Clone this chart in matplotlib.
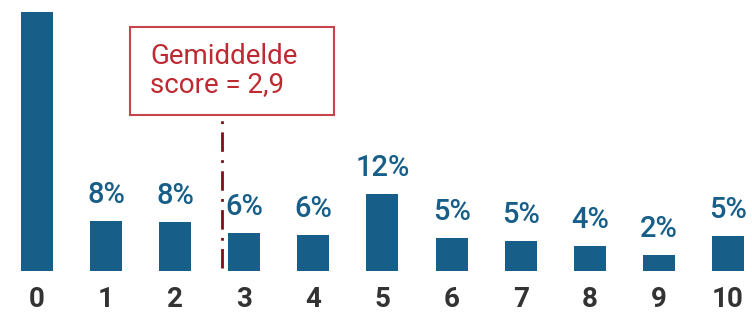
import matplotlib
matplotlib.use("Agg")
import matplotlib.pyplot as plt
from matplotlib.patches import Rectangle

categories = ["0", "1", "2", "3", "4", "5", "6", "7", "8", "9", "10"]
values = [40.3, 7.8, 7.6, 5.9, 5.6, 12.0, 5.1, 4.7, 3.9, 2.5, 5.4]
value_labels = ["", "8%", "8%", "6%", "6%", "12%", "5%", "5%", "4%", "2%", "5%"]
mean_label = "Gemiddelde\nscore = 2,9"
mean_line_x = 2.68

plt.rcParams['font.family'] = ['Roboto', 'DejaVu Sans']

BLUE = "#175E88"
RED_TXT = "#BE2A32"
RED_BOX = "#C9434B"
LINE_RED = "#7A1015"

fig = plt.figure(figsize=(7.52, 3.15), dpi=100)
ax = fig.add_axes([0, 44 / 315, 1, 1 - 44 / 315])

x = list(range(len(categories)))
ax.bar(x, values, width=0.463, color=BLUE)
ax.set_xlim(-0.535, 10.347)
ax.set_ylim(0, 42.2)

for xi, v, lab in zip(x, values, value_labels):
    if lab:
        ax.annotate(lab, (xi, v), xytext=(0, 12), textcoords="offset pixels",
                    ha="center", va="bottom", fontsize=21, color=BLUE,
                    fontweight="medium")

ax.set_xticks(x)
ax.set_xticklabels(categories, fontsize=20, fontweight="bold", color="#333333")
ax.tick_params(axis="x", length=0, pad=11)
ax.set_yticks([])
for s in ax.spines.values():
    s.set_visible(False)

ax.plot([mean_line_x, mean_line_x], [0.4, (271 - 115) / 6.42], color=LINE_RED,
        lw=2.0, linestyle=(0, (7, 3, 1, 3)))

fig.patches.append(Rectangle((130 / 752, 1 - 115 / 315), 204 / 752, 88 / 315,
                             transform=fig.transFigure, fill=True, facecolor="white",
                             edgecolor=RED_BOX, lw=1.5))
fig.text(150 / 752, 1 - 71 / 315, mean_label, ha="left", va="center",
         fontsize=20, color=RED_TXT, linespacing=1.05)

fig.savefig("out.png", dpi=100)
